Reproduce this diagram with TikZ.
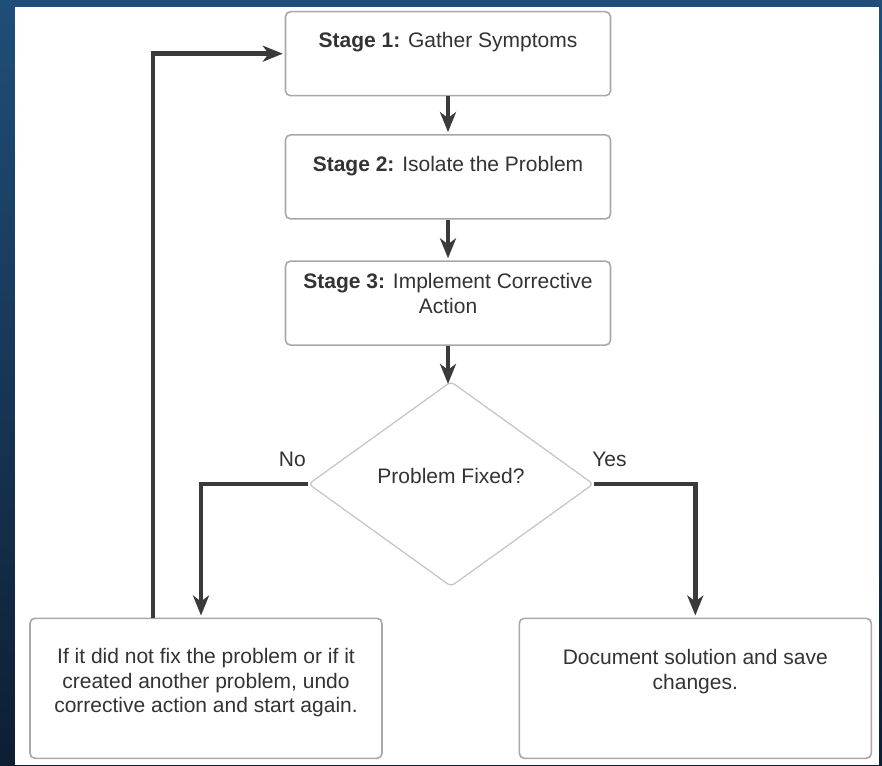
\documentclass[tikz,border=0pt]{standalone}
\usepackage{fontspec}
\setmainfont{Liberation Sans}
\usepackage{xcolor}
\usepackage{tikz}
\usetikzlibrary{shapes.geometric,arrows.meta,positioning}
\definecolor{tsnavy}{HTML}{1F4E79}
\definecolor{tsdeep}{HTML}{0E1E33}
\definecolor{tsink}{HTML}{3A3A3A}
\definecolor{tstext}{HTML}{333333}
\definecolor{tsframe}{HTML}{A8A8A8}
\definecolor{tsdiam}{HTML}{C4C4C4}
\tikzset{
    stagebox/.style={
        rectangle, rounded corners=5pt,
        draw=tsframe, line width=1.6pt, fill=white,
        minimum width=325pt, minimum height=84pt,
        align=center, text=tstext,
        font=\fontsize{21}{24.5}\selectfont
    },
    endbox/.style={
        stagebox,
        minimum width=352pt, minimum height=140pt
    },
    decision/.style={
        diamond, rounded corners=4pt,
        draw=tsdiam, line width=1.2pt, fill=white,
        minimum width=285pt, minimum height=205pt, inner sep=0pt,
        text=tstext, font=\fontsize{21}{24.5}\selectfont
    },
    flow/.style={-{Stealth[length=20pt, width=16pt, inset=6pt]}, line width=4.5pt, color=tsink, shorten >=2pt},
    branch/.style={font=\fontsize{21}{24.5}\selectfont, text=tstext, inner sep=0pt},
}

\begin{document}
\begin{tikzpicture}[x=1pt, y=-1pt]

    % Background frame
    \useasboundingbox (0,0) rectangle (882,765);
    \fill[top color=tsnavy, bottom color=tsdeep] (0,0) rectangle (882,765);
    \fill[white] (15,7) rectangle (879,765);

    % Stages
    \node[stagebox, text depth=28pt] (s1) at (448,53.7)
        {\textbf{Stage 1:} Gather Symptoms};

    \node[stagebox, text depth=26pt, below=37.6pt of s1] (s2)
        {\textbf{Stage 2:} Isolate the Problem};

    \node[stagebox, text depth=19pt, below=40.6pt of s2] (s3)
        {\textbf{Stage 3:} Implement Corrective\\Action};

    % Decision
    \node[decision, text depth=17pt, below=35pt of s3, xshift=3pt] (fixed)
        {Problem Fixed?};

    % Outcomes
    \node[endbox, text depth=15pt] (redo) at (206,688.3)
        {If it did not fix the problem or if it\\created another problem, undo\\corrective action and start again.};

    \node[endbox, text depth=38pt] (save) at (695.3,688.3)
        {Document solution and save\\changes.};

    % Branch labels
    \node[branch, anchor=base east] (no) at ([xshift=-2pt, yshift=18pt]fixed.west) {No};
    \node[branch, anchor=base west] (yes) at ([xshift=-2pt, yshift=18pt]fixed.east) {Yes};

    % Arrows (main flow)
    \draw[flow] (s1) -- (s2);
    \draw[flow] (s2) -- (s3);
    \draw[flow, shorten >=-3pt] (s3.south) -- (s3.south |- fixed.north);

    % Arrows (branches)
    \draw[flow] (fixed.west) -| ([xshift=-5pt]redo.north);
    \draw[flow] (fixed.east) -| (save.north);

    % Loop back
    \draw[flow] ([xshift=-53pt]redo.north) |- (s1.west);

\end{tikzpicture}
\end{document}
